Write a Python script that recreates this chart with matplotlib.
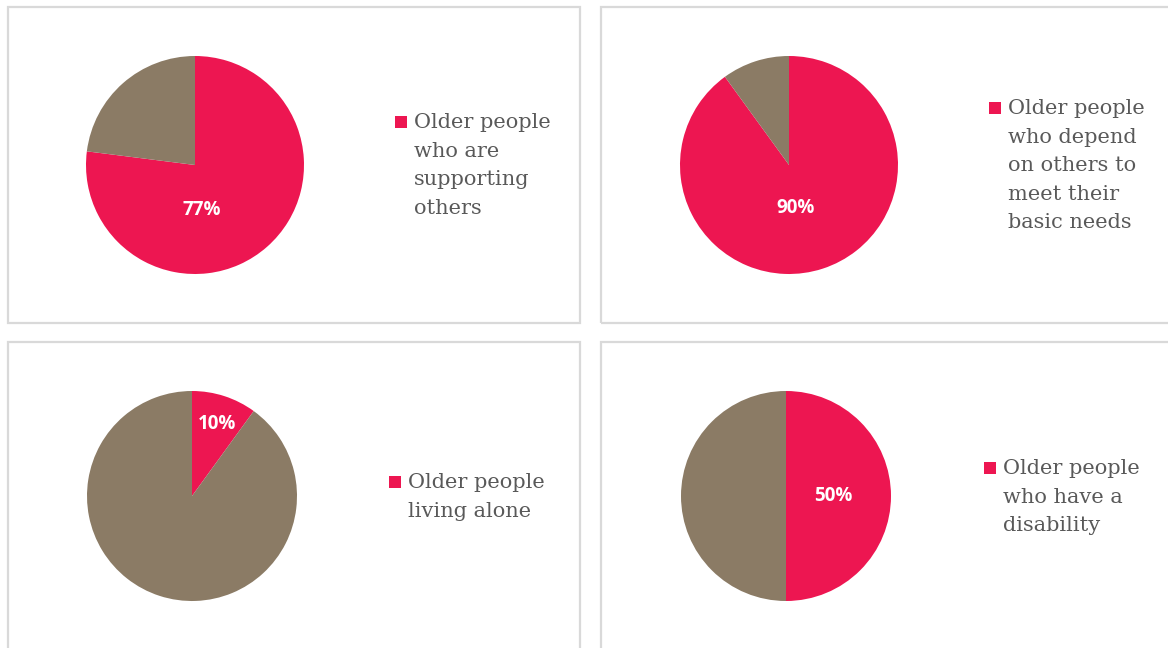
import matplotlib
matplotlib.use("Agg")
import matplotlib.pyplot as plt
from matplotlib.patches import Rectangle

# ---- data ----
labels = ["Older people\nwho are\nsupporting\nothers",
          "Older people\nwho depend\non others to\nmeet their\nbasic needs",
          "Older people\nliving alone",
          "Older people\nwho have a\ndisability"]
shares = [77, 90, 10, 50]

PINK = "#ED1651"
BROWN = "#8B7B65"
BORDER = "#D9D9D9"
TEXT = "#595959"

W, H = 1168, 648
fig = plt.figure(figsize=(W / 100, H / 100), dpi=100)
fig.patch.set_facecolor("white")

def fx(x):
    return x / W

def fy(y):
    return 1 - y / H

# panel frames (pixel left, top, right, bottom)
panels = [(8, 7, 580, 323), (601, 7, 1200, 323), (8, 342, 580, 700), (601, 342, 1200, 700)]
for (l, t, r, b) in panels:
    fig.patches.append(Rectangle((fx(l), fy(b)), fx(r - l), fy(t) - fy(b),
                                 transform=fig.transFigure, fill=False,
                                 edgecolor=BORDER, linewidth=1.6))

# pie layout: center x, center y, radius (pixels)
pie_geom = [(195, 165, 109), (789, 165, 109), (192, 496, 105), (786, 496, 105)]
# label positions in pie units (relative to center, radius = 1)
label_pos = [(0.06, -0.41), (0.06, -0.39), (0.24, 0.69), (0.45, 0.0)]
# legend anchor: marker left x, first line center y
legend_geom = [(395, 122), (989, 108), (389, 482), (984, 468)]

for i in range(4):
    cx, cy, r = pie_geom[i]
    ax = fig.add_axes([fx(cx - r), fy(cy + r), fx(2 * r), (2 * r) / H])
    vals = [shares[i], 100 - shares[i]]
    wedges, _ = ax.pie(vals, colors=[PINK, BROWN], startangle=90,
                       counterclock=False, radius=1,
                       wedgeprops=dict(linewidth=0))
    ax.set_xlim(-1, 1)
    ax.set_ylim(-1, 1)
    ax.set_aspect("equal")
    ax.axis("off")
    lx, ly = label_pos[i]
    ax.text(lx, ly, f"{shares[i]}%", ha="center", va="center", color="white",
            fontsize=13.5, fontweight="bold", family="Open Sans")

    mx, my = legend_geom[i]
    fig.patches.append(Rectangle((fx(mx), fy(my + 6)), fx(12), 12 / H,
                                 transform=fig.transFigure, facecolor=PINK,
                                 edgecolor="none"))
    fig.text(fx(mx + 19), fy(my - 9), labels[i], ha="left", va="top",
             color=TEXT, fontsize=15, family="DejaVu Serif", linespacing=1.64)

fig.savefig("out.png", dpi=100, facecolor="white")
